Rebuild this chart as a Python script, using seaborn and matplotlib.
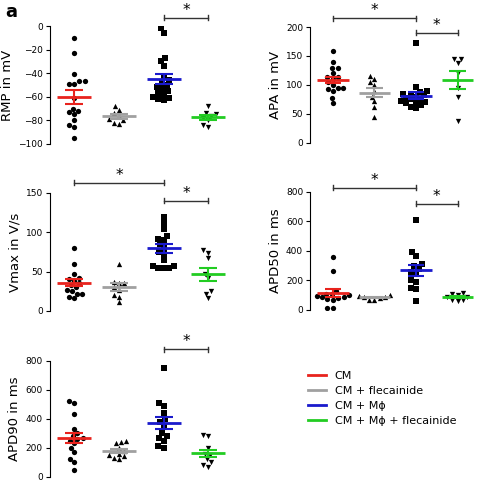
import numpy as np
import pandas as pd
import matplotlib
matplotlib.use("Agg")
import matplotlib.pyplot as plt
from matplotlib.lines import Line2D
import seaborn as sns

groups = ["CM", "CM + flecainide", "CM + Mϕ", "CM + Mϕ + flecainide"]
colors = ["#e8231d", "#a0a0a0", "#1a1acc", "#22cc22"]
markers = ["o", "^", "s", "v"]

rmp = [[-10,-23,-41,-47,-47,-49,-49,-61,-70,-72,-73,-75,-80,-84,-86,-95],
       [-68,-71,-74,-76,-79,-80,-82,-83],
       [-2,-6,-27,-30,-34,-42,-46,-48,-50,-52,-53,-55,-57,-58,-60,-61,-62,-63],
       [-68,-74,-75,-76,-78,-80,-84,-86]]
apa = [[158,139,130,130,121,114,113,110,105,100,95,95,93,90,77,68],
       [115,110,105,100,90,80,72,62,45],
       [172,97,90,87,85,84,82,80,78,75,75,72,70,70,68,65,62,60],
       [145,145,138,120,95,80,37]]
vmax = [[80,60,47,42,40,38,35,33,30,27,25,22,22,18,16],
        [60,37,35,35,30,27,20,18,11],
        [120,112,104,95,92,90,85,80,75,72,65,57,57,55,55,55],
        [77,74,67,47,42,25,22,16]]
apd50 = [[360,265,130,110,105,100,95,90,85,80,75,70,10,10],
         [100,95,90,85,80,70,70],
         [610,390,365,310,300,280,260,250,200,190,145,140,60],
         [115,105,100,90,85,70,65,60]]
apd90 = [[525,510,430,330,300,280,270,260,250,230,200,170,120,100,50],
         [250,240,230,200,180,160,150,140,130,120],
         [750,510,490,440,400,380,350,300,280,270,250,210,200],
         [290,280,200,160,150,120,100,80,70]]

panels = [
    ("RMP in mV", rmp, (-100, 0), [-100,-80,-60,-40,-20,0], [0.10,0.707,0.355,0.24], [(2,3,7)]),
    ("APA in mV", apa, (0, 200), [0,50,100,150,200], [0.624,0.709,0.33,0.236], [(0,2,215),(2,3,190)]),
    ("Vmax in V/s", vmax, (0, 150), [0,50,100,150], [0.10,0.367,0.355,0.24], [(0,2,163),(2,3,140)]),
    ("APD50 in ms", apd50, (0, 800), [0,200,400,600,800], [0.624,0.369,0.33,0.24], [(0,2,830),(2,3,720)]),
    ("APD90 in ms", apd90, (0, 800), [0,200,400,600,800], [0.10,0.029,0.355,0.236], [(2,3,880)]),
]

fig = plt.figure(figsize=(4.97, 4.91), dpi=100)
for label, data, ylim, ticks, pos, sig in panels:
    ax = fig.add_axes(pos)
    for i, vals in enumerate(data):
        df = pd.DataFrame({"g": [groups[i]] * len(vals), "v": vals})
        sns.swarmplot(data=df, x="g", y="v", order=groups, marker=markers[i],
                      color="black", size=3.8, ax=ax)
        m = np.mean(vals)
        se = np.std(vals, ddof=1) / np.sqrt(len(vals))
        ax.hlines(m, i - 0.38, i + 0.38, color=colors[i], lw=2, zorder=5)
        ax.vlines(i, m - se, m + se, color=colors[i], lw=1.5, zorder=5)
        ax.hlines([m - se, m + se], i - 0.2, i + 0.2, color=colors[i], lw=1.5, zorder=5)
    ax.set_xlim(-0.55, 3.4)
    ax.set_ylim(*ylim)
    ax.set_yticks(ticks)
    ax.tick_params(axis="y", labelsize=6.5, length=3, pad=2)
    ax.set_xticks([])
    ax.set_xlabel("")
    ax.set_ylabel(label, fontsize=9.5, labelpad=3)
    for s in ["top", "right", "bottom"]:
        ax.spines[s].set_visible(False)
    rng = ylim[1] - ylim[0]
    for a, b, y in sig:
        ax.plot([a, b], [y, y], color="#333333", lw=1, clip_on=False)
        ax.plot([a, a], [y - rng*0.02, y + rng*0.02], color="#333333", lw=1, clip_on=False)
        ax.plot([b, b], [y - rng*0.02, y + rng*0.02], color="#333333", lw=1, clip_on=False)
        ax.text((a + b) / 2, y, "*", ha="center", va="bottom", fontsize=11, clip_on=False)

fig.text(0.01, 0.965, "a", fontsize=13, fontweight="bold")
handles = [Line2D([], [], color=c, lw=2) for c in colors]
fig.legend(handles, groups, loc="upper left", bbox_to_anchor=(0.6, 0.265),
           frameon=False, fontsize=8, handlelength=1.6, labelspacing=0.45)
fig.savefig("out.png", dpi=100)
